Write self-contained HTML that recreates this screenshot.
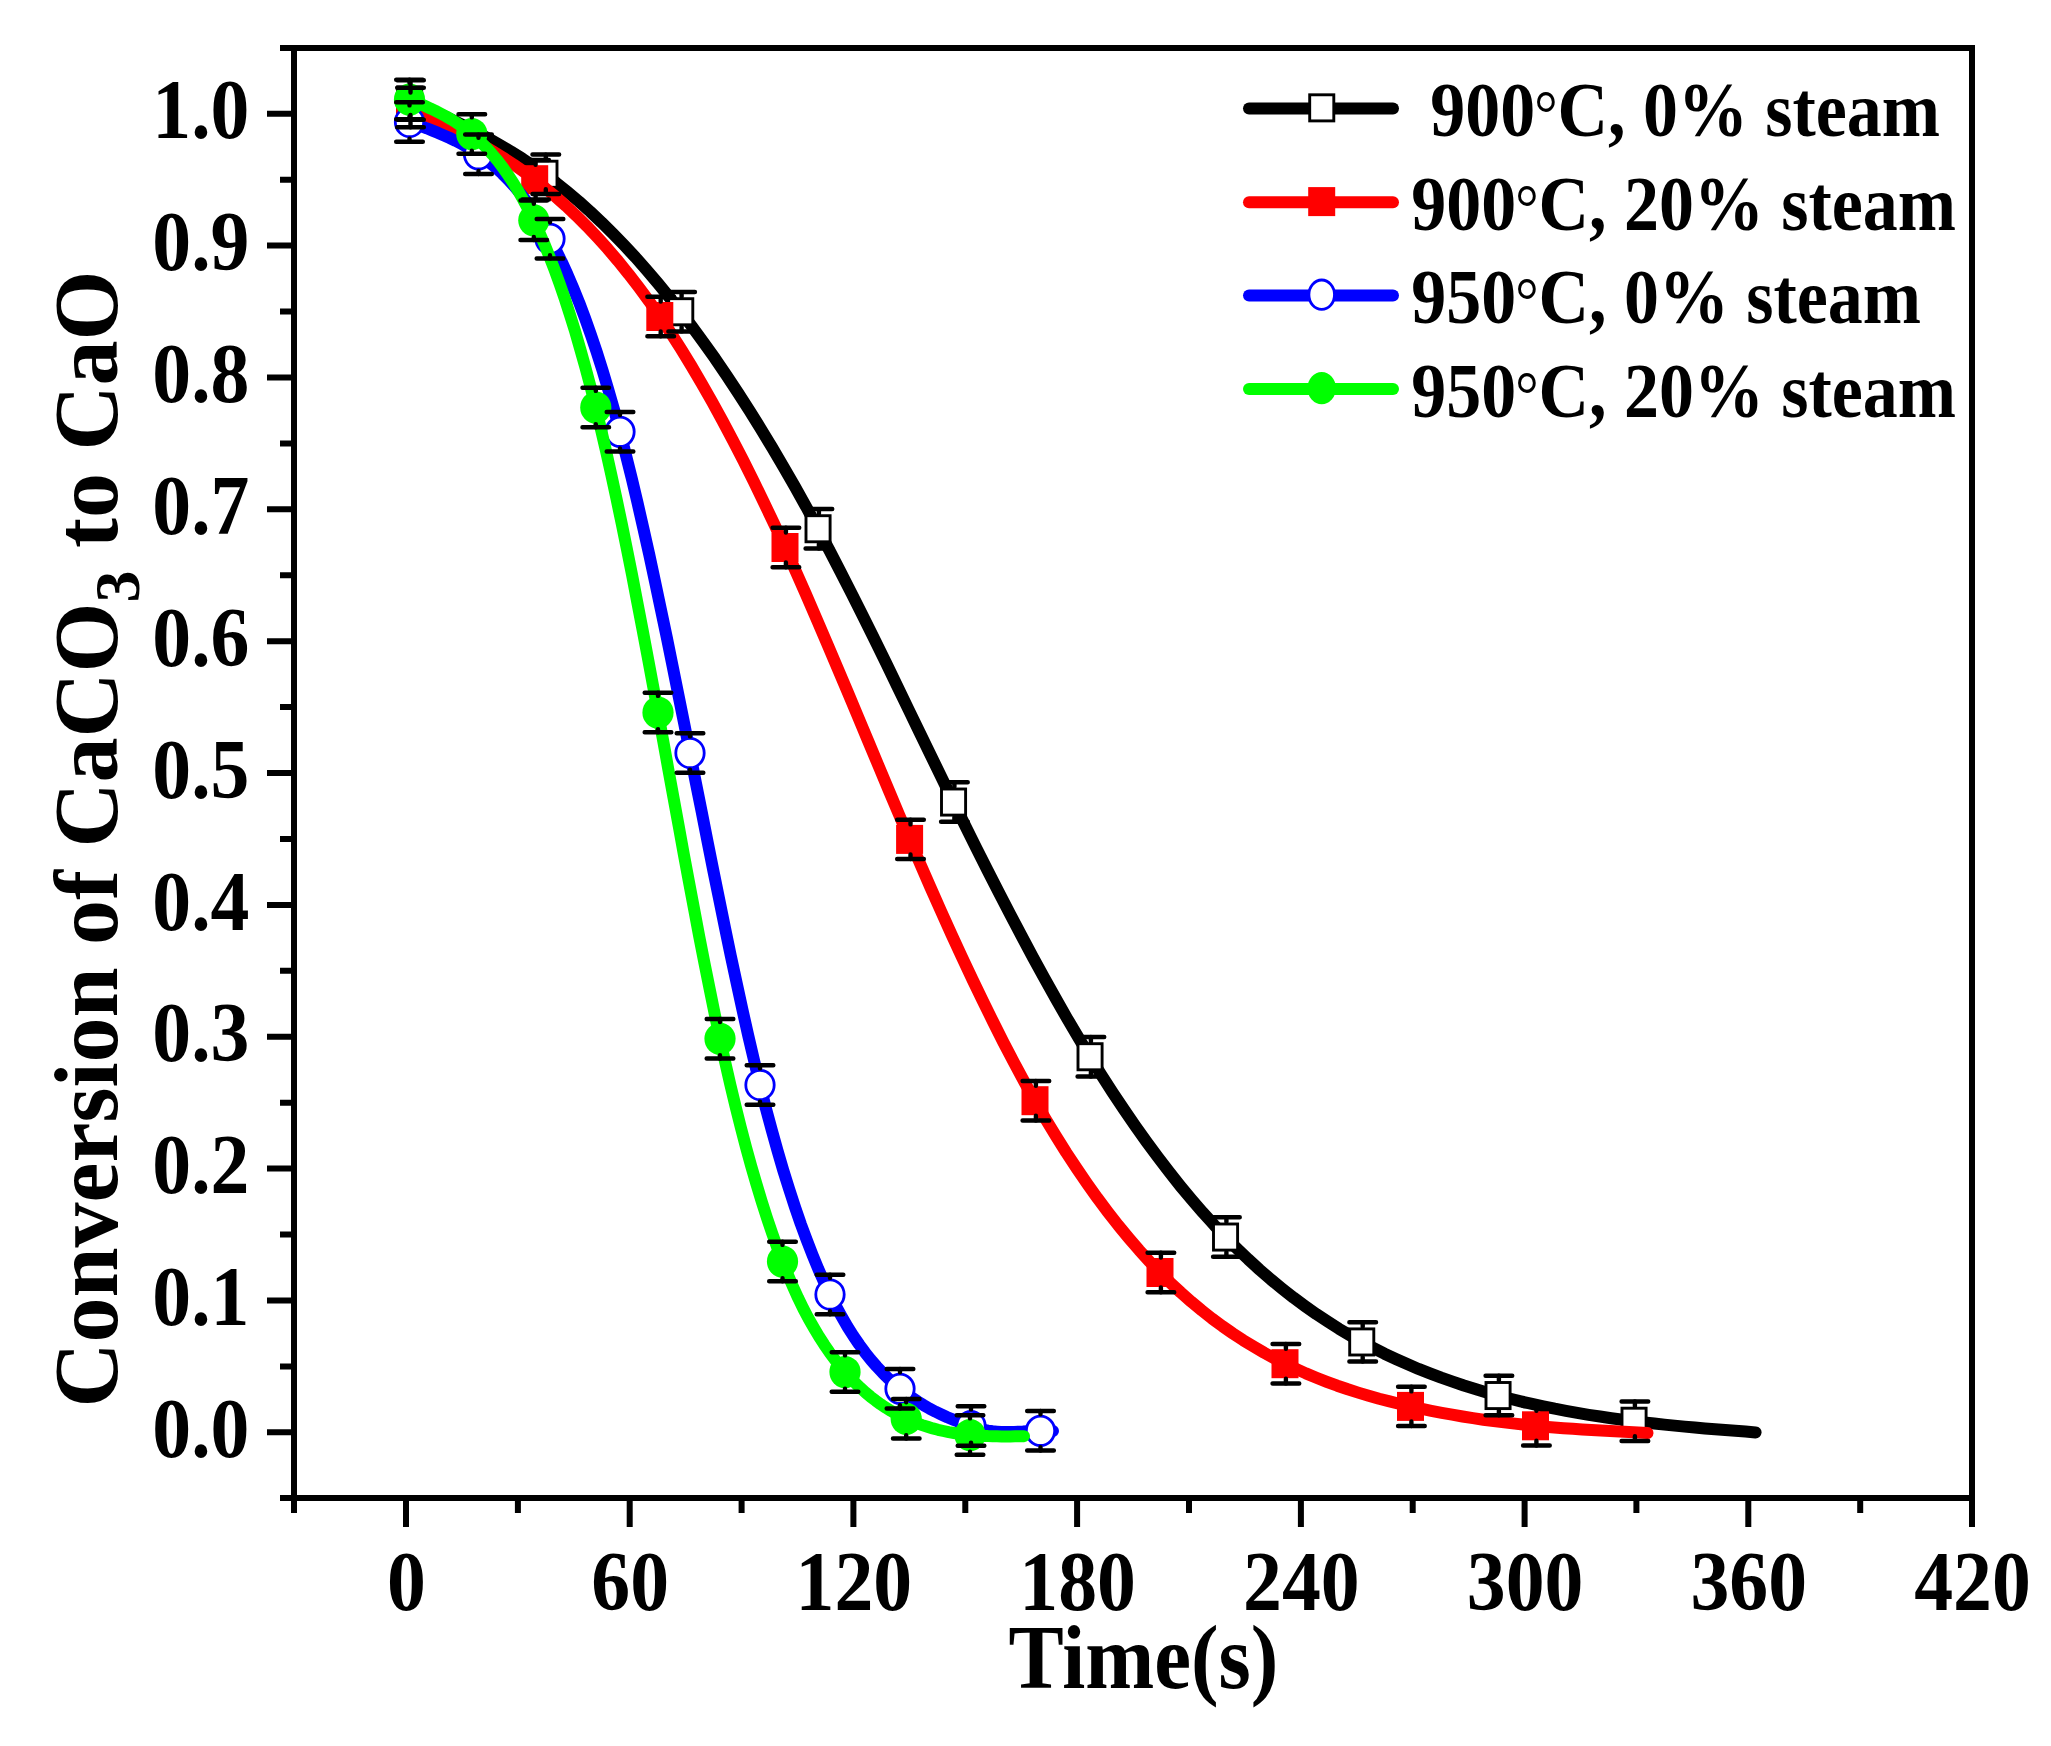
<!DOCTYPE html>
<html lang="en"><head><meta charset="utf-8"><title>Conversion of CaCO3 to CaO</title>
<style>html,body{margin:0;padding:0;background:#fff}body{width:2051px;height:1746px;overflow:hidden}svg{display:block}text{font-family:"Liberation Serif",serif;font-weight:bold;fill:#000}</style>
</head><body>
<svg width="2051" height="1746" viewBox="0 0 2051 1746">
<rect width="2051" height="1746" fill="#fff"/>
<g id="series">
<path d="M409.6 100.0 L420.9 105.2 L432.2 110.4 L443.4 115.6 L454.7 121.1 L466.0 126.7 L477.2 132.5 L488.5 138.5 L499.8 144.9 L511.1 151.6 L522.4 158.7 L533.6 166.2 L544.9 174.2 L556.2 182.8 L567.5 191.9 L578.9 201.5 L590.2 211.6 L601.5 222.3 L612.8 233.5 L624.1 245.2 L635.5 257.4 L646.8 270.2 L658.1 283.5 L669.4 297.4 L680.8 311.8 L692.2 326.8 L703.6 342.5 L715.1 358.6 L726.5 375.4 L737.9 392.6 L749.4 410.4 L760.8 428.8 L772.2 447.7 L783.7 467.2 L795.1 487.1 L806.6 507.7 L818.0 528.8 L829.3 550.1 L840.6 571.9 L851.9 594.1 L863.2 616.6 L874.5 639.4 L885.8 662.4 L897.0 685.7 L908.3 709.0 L919.6 732.3 L930.9 755.6 L942.2 778.9 L953.5 802.0 L964.9 825.1 L976.2 847.9 L987.6 870.5 L999.0 892.8 L1010.4 914.8 L1021.8 936.4 L1033.1 957.6 L1044.5 978.4 L1055.9 998.7 L1067.2 1018.6 L1078.6 1037.9 L1090.0 1056.8 L1101.3 1074.9 L1112.6 1092.4 L1123.9 1109.4 L1135.2 1125.8 L1146.5 1141.7 L1157.8 1157.0 L1169.0 1171.7 L1180.3 1185.9 L1191.6 1199.5 L1202.9 1212.6 L1214.2 1225.1 L1225.5 1237.0 L1236.9 1248.4 L1248.2 1259.3 L1259.6 1269.7 L1270.9 1279.5 L1282.3 1288.8 L1293.6 1297.7 L1305.0 1306.1 L1316.3 1314.1 L1327.7 1321.6 L1339.0 1328.8 L1350.4 1335.5 L1361.8 1341.9 L1373.1 1347.9 L1384.5 1353.7 L1395.8 1359.0 L1407.2 1364.1 L1418.5 1368.9 L1429.9 1373.4 L1441.2 1377.7 L1452.6 1381.7 L1463.9 1385.5 L1475.3 1389.0 L1486.6 1392.4 L1498.0 1395.5 L1509.3 1398.5 L1520.7 1401.3 L1532.0 1403.9 L1543.3 1406.3 L1554.7 1408.7 L1566.0 1410.8 L1577.3 1412.9 L1588.7 1414.8 L1600.0 1416.5 L1611.3 1418.2 L1622.7 1419.8 L1634.0 1421.2 L1644.1 1422.4 L1654.3 1423.5 L1664.4 1424.6 L1674.5 1425.6 L1684.7 1426.6 L1694.8 1427.5 L1704.9 1428.4 L1715.1 1429.2 L1725.2 1430.0 L1735.3 1430.8 L1745.5 1431.6 L1755.6 1432.4" fill="none" stroke="#000" stroke-width="12.0" stroke-linecap="round" stroke-linejoin="round"/>
<rect x="397.6" y="87.0" width="24.1" height="26.1" fill="#fff" stroke="#000" stroke-width="2.9"/><rect x="532.9" y="161.2" width="24.1" height="26.1" fill="#fff" stroke="#000" stroke-width="2.9"/><rect x="668.7" y="298.7" width="24.1" height="26.1" fill="#fff" stroke="#000" stroke-width="2.9"/><rect x="806.0" y="515.7" width="24.1" height="26.1" fill="#fff" stroke="#000" stroke-width="2.9"/><rect x="941.5" y="789.0" width="24.1" height="26.1" fill="#fff" stroke="#000" stroke-width="2.9"/><rect x="1078.0" y="1043.7" width="24.1" height="26.1" fill="#fff" stroke="#000" stroke-width="2.9"/><rect x="1213.5" y="1224.0" width="24.1" height="26.1" fill="#fff" stroke="#000" stroke-width="2.9"/><rect x="1349.7" y="1328.9" width="24.1" height="26.1" fill="#fff" stroke="#000" stroke-width="2.9"/><rect x="1486.0" y="1382.5" width="24.1" height="26.1" fill="#fff" stroke="#000" stroke-width="2.9"/><rect x="1622.0" y="1408.2" width="24.1" height="26.1" fill="#fff" stroke="#000" stroke-width="2.9"/>
<path d="M409.6 107.5 L420.0 112.5 L430.5 117.6 L440.9 122.8 L451.3 128.1 L461.7 133.5 L472.2 139.2 L482.6 145.1 L493.0 151.3 L503.4 157.8 L513.9 164.7 L524.3 172.0 L534.7 179.8 L545.1 188.0 L555.6 196.7 L566.0 206.0 L576.4 215.8 L586.8 226.2 L597.2 237.2 L607.7 248.8 L618.1 261.0 L628.5 273.9 L638.9 287.4 L649.4 301.6 L659.8 316.5 L670.2 332.1 L680.7 348.5 L691.1 365.5 L701.5 383.2 L712.0 401.6 L722.4 420.6 L732.8 440.3 L743.3 460.5 L753.7 481.4 L764.1 502.9 L774.6 524.9 L785.0 547.5 L795.4 570.5 L805.8 594.0 L816.1 617.9 L826.5 642.1 L836.9 666.6 L847.3 691.2 L857.7 716.0 L868.1 740.9 L878.5 765.7 L888.8 790.4 L899.2 815.0 L909.6 839.4 L920.1 863.6 L930.5 887.5 L941.0 911.1 L951.4 934.2 L961.9 956.9 L972.3 979.1 L982.8 1000.9 L993.2 1022.0 L1003.6 1042.7 L1014.1 1062.7 L1024.5 1082.1 L1035.0 1100.8 L1045.4 1118.7 L1055.8 1135.9 L1066.2 1152.5 L1076.7 1168.4 L1087.1 1183.6 L1097.5 1198.2 L1107.9 1212.1 L1118.3 1225.4 L1128.8 1238.1 L1139.2 1250.2 L1149.6 1261.6 L1160.0 1272.5 L1170.4 1282.8 L1180.8 1292.5 L1191.2 1301.7 L1201.7 1310.4 L1212.1 1318.6 L1222.5 1326.3 L1232.9 1333.5 L1243.3 1340.3 L1253.8 1346.7 L1264.2 1352.8 L1274.6 1358.4 L1285.0 1363.7 L1295.5 1368.7 L1305.9 1373.4 L1316.4 1377.7 L1326.8 1381.8 L1337.3 1385.7 L1347.8 1389.3 L1358.2 1392.6 L1368.7 1395.7 L1379.1 1398.7 L1389.6 1401.4 L1400.0 1404.0 L1410.5 1406.4 L1420.9 1408.7 L1431.3 1410.8 L1441.8 1412.8 L1452.2 1414.7 L1462.6 1416.5 L1473.0 1418.1 L1483.4 1419.7 L1493.8 1421.1 L1504.2 1422.4 L1514.7 1423.6 L1525.1 1424.8 L1535.5 1425.8 L1544.8 1426.7 L1554.2 1427.4 L1563.5 1428.2 L1572.8 1428.8 L1582.2 1429.5 L1591.5 1430.0 L1600.8 1430.6 L1610.2 1431.1 L1619.5 1431.6 L1628.8 1432.1 L1638.2 1432.5 L1647.5 1433.0" fill="none" stroke="#f00" stroke-width="12.0" stroke-linecap="round" stroke-linejoin="round"/>
<rect x="396.1" y="93.0" width="27.0" height="29.0" fill="#f00"/><rect x="521.2" y="165.2" width="27.0" height="29.0" fill="#f00"/><rect x="646.3" y="302.0" width="27.0" height="29.0" fill="#f00"/><rect x="771.5" y="533.0" width="27.0" height="29.0" fill="#f00"/><rect x="896.1" y="824.9" width="27.0" height="29.0" fill="#f00"/><rect x="1021.5" y="1086.2" width="27.0" height="29.0" fill="#f00"/><rect x="1146.5" y="1258.0" width="27.0" height="29.0" fill="#f00"/><rect x="1271.5" y="1349.2" width="27.0" height="29.0" fill="#f00"/><rect x="1397.0" y="1391.9" width="27.0" height="29.0" fill="#f00"/><rect x="1522.0" y="1411.3" width="27.0" height="29.0" fill="#f00"/>
<path d="M409.5 122.0 L415.2 124.1 L421.0 126.2 L426.8 128.3 L432.5 130.6 L438.2 132.9 L444.0 135.4 L449.8 138.0 L455.5 140.8 L461.2 143.8 L467.0 147.0 L472.8 150.5 L478.5 154.3 L484.5 158.5 L490.4 163.2 L496.4 168.2 L502.3 173.7 L508.3 179.7 L514.2 186.2 L520.2 193.3 L526.2 201.0 L532.1 209.3 L538.1 218.4 L544.0 228.2 L550.0 238.8 L555.8 249.9 L561.7 261.8 L567.5 274.6 L573.3 288.2 L579.2 302.7 L585.0 318.2 L590.8 334.6 L596.7 352.0 L602.5 370.3 L608.3 389.7 L614.2 410.2 L620.0 431.8 L625.8 454.4 L631.7 478.1 L637.5 502.7 L643.3 528.2 L649.2 554.4 L655.0 581.4 L660.8 609.0 L666.7 637.0 L672.5 665.6 L678.3 694.5 L684.2 723.6 L690.0 753.0 L695.8 782.5 L701.7 811.9 L707.5 841.3 L713.3 870.5 L719.2 899.4 L725.0 927.9 L730.8 955.9 L736.7 983.3 L742.5 1010.0 L748.3 1035.9 L754.2 1061.0 L760.0 1085.0 L765.8 1108.0 L771.7 1129.9 L777.5 1150.7 L783.3 1170.5 L789.2 1189.3 L795.0 1207.1 L800.8 1224.0 L806.7 1239.9 L812.5 1254.9 L818.3 1269.0 L824.2 1282.2 L830.0 1294.5 L835.8 1306.0 L841.7 1316.7 L847.5 1326.7 L853.3 1335.9 L859.2 1344.5 L865.0 1352.4 L870.8 1359.7 L876.7 1366.5 L882.5 1372.7 L888.3 1378.5 L894.2 1383.8 L900.0 1388.8 L905.9 1393.4 L911.8 1397.6 L917.8 1401.6 L923.7 1405.2 L929.6 1408.6 L935.5 1411.7 L941.4 1414.5 L947.3 1417.2 L953.2 1419.6 L959.2 1421.9 L965.1 1424.0 L971.0 1426.0 L972.4 1426.5 L973.8 1426.9 L975.2 1427.4 L976.7 1427.8 L978.1 1428.2 L979.5 1428.6 L980.9 1429.0 L982.3 1429.4 L983.8 1429.7 L985.2 1430.0 L986.6 1430.3 L988.0 1430.6 L992.4 1431.3 L996.8 1431.7 L1001.1 1432.0 L1005.5 1432.1 L1009.9 1432.1 L1014.2 1431.9 L1018.6 1431.7 L1023.0 1431.5 L1027.4 1431.2 L1031.8 1431.0 L1036.1 1430.8 L1040.5 1430.8 L1041.5 1430.7 L1042.6 1430.8 L1043.6 1430.8 L1044.7 1430.8 L1045.7 1430.8 L1046.8 1430.8 L1047.8 1430.8 L1048.8 1430.9 L1049.9 1430.9 L1050.9 1430.9 L1052.0 1431.0 L1053.0 1431.0" fill="none" stroke="#00f" stroke-width="12.0" stroke-linecap="round" stroke-linejoin="round"/>
<ellipse cx="409.5" cy="122.0" rx="14.2" ry="14.7" fill="#fff" stroke="#00f" stroke-width="2.8"/><ellipse cx="478.5" cy="154.3" rx="14.2" ry="14.7" fill="#fff" stroke="#00f" stroke-width="2.8"/><ellipse cx="550.0" cy="238.8" rx="14.2" ry="14.7" fill="#fff" stroke="#00f" stroke-width="2.8"/><ellipse cx="620.0" cy="431.8" rx="14.2" ry="14.7" fill="#fff" stroke="#00f" stroke-width="2.8"/><ellipse cx="690.0" cy="753.0" rx="14.2" ry="14.7" fill="#fff" stroke="#00f" stroke-width="2.8"/><ellipse cx="760.0" cy="1085.0" rx="14.2" ry="14.7" fill="#fff" stroke="#00f" stroke-width="2.8"/><ellipse cx="830.0" cy="1294.5" rx="14.2" ry="14.7" fill="#fff" stroke="#00f" stroke-width="2.8"/><ellipse cx="900.0" cy="1388.8" rx="14.2" ry="14.7" fill="#fff" stroke="#00f" stroke-width="2.8"/><ellipse cx="971.0" cy="1426.0" rx="14.2" ry="14.7" fill="#fff" stroke="#00f" stroke-width="2.8"/><ellipse cx="1040.5" cy="1430.8" rx="14.2" ry="14.7" fill="#fff" stroke="#00f" stroke-width="2.8"/>
<path d="M409.5 99.5 L414.7 101.6 L419.9 103.8 L425.1 106.1 L430.3 108.4 L435.5 110.9 L440.6 113.5 L445.8 116.2 L451.0 119.2 L456.2 122.5 L461.4 126.0 L466.6 129.8 L471.8 134.0 L477.0 138.5 L482.1 143.4 L487.3 148.7 L492.4 154.5 L497.6 160.7 L502.8 167.5 L507.9 174.8 L513.1 182.6 L518.3 191.1 L523.4 200.1 L528.6 209.9 L533.8 220.3 L538.9 231.4 L544.1 243.3 L549.2 256.0 L554.4 269.4 L559.6 283.6 L564.8 298.7 L569.9 314.6 L575.1 331.3 L580.2 349.0 L585.4 367.5 L590.6 387.0 L595.8 407.5 L600.9 429.0 L606.1 451.4 L611.3 474.7 L616.5 498.8 L621.7 523.6 L626.9 549.1 L632.1 575.2 L637.2 601.8 L642.4 628.9 L647.6 656.5 L652.8 684.3 L658.0 712.5 L663.2 740.8 L668.3 769.2 L673.5 797.6 L678.7 826.0 L683.8 854.2 L689.0 882.1 L694.2 909.7 L699.3 936.8 L704.5 963.4 L709.7 989.3 L714.8 1014.4 L720.0 1038.8 L725.2 1062.3 L730.4 1085.0 L735.6 1106.7 L740.8 1127.4 L746.0 1147.3 L751.2 1166.2 L756.5 1184.3 L761.7 1201.4 L766.9 1217.7 L772.1 1233.2 L777.3 1247.8 L782.5 1261.5 L787.7 1274.4 L792.9 1286.5 L798.1 1297.9 L803.3 1308.6 L808.5 1318.5 L813.8 1327.8 L819.0 1336.5 L824.2 1344.6 L829.4 1352.2 L834.6 1359.3 L839.8 1365.8 L845.0 1372.0 L850.1 1377.6 L855.2 1382.9 L860.3 1387.8 L865.4 1392.4 L870.5 1396.7 L875.6 1400.6 L880.7 1404.3 L885.8 1407.7 L890.9 1410.8 L896.0 1413.7 L901.1 1416.3 L906.2 1418.8 L911.6 1421.1 L916.9 1423.2 L922.2 1425.1 L927.5 1426.8 L932.8 1428.4 L938.1 1429.8 L943.4 1431.0 L948.8 1432.1 L954.1 1433.0 L959.4 1433.8 L964.7 1434.5 L970.0 1435.0 L974.5 1435.4 L979.0 1435.7 L983.5 1435.9 L988.0 1436.1 L992.5 1436.2 L997.0 1436.3 L1001.5 1436.4 L1006.0 1436.4 L1010.5 1436.4 L1015.0 1436.3 L1019.5 1436.3 L1024.0 1436.2" fill="none" stroke="#0f0" stroke-width="12.0" stroke-linecap="round" stroke-linejoin="round"/>
<ellipse cx="409.5" cy="99.5" rx="15.6" ry="16.1" fill="#0f0"/><ellipse cx="471.8" cy="134.0" rx="15.6" ry="16.1" fill="#0f0"/><ellipse cx="533.8" cy="220.3" rx="15.6" ry="16.1" fill="#0f0"/><ellipse cx="595.8" cy="407.5" rx="15.6" ry="16.1" fill="#0f0"/><ellipse cx="658.0" cy="712.5" rx="15.6" ry="16.1" fill="#0f0"/><ellipse cx="720.0" cy="1038.8" rx="15.6" ry="16.1" fill="#0f0"/><ellipse cx="782.5" cy="1261.5" rx="15.6" ry="16.1" fill="#0f0"/><ellipse cx="845.0" cy="1372.0" rx="15.6" ry="16.1" fill="#0f0"/><ellipse cx="906.2" cy="1418.8" rx="15.6" ry="16.1" fill="#0f0"/><ellipse cx="970.0" cy="1435.0" rx="15.6" ry="16.1" fill="#0f0"/>
</g>
<g id="errors" stroke="#000" fill="none" stroke-linecap="round">
<path d="M397.2 80.3H423.8M397.2 119.7H423.8M532.5 154.6H559.1M532.5 193.9H559.1M668.4 292.1H694.9M668.4 331.4H694.9M805.6 509.1H832.2M805.6 548.5H832.2M941.1 782.3H967.7M941.1 821.7H967.7M1077.6 1037.0H1104.2M1077.6 1076.5H1104.2M1213.1 1217.3H1239.7M1213.1 1256.7H1239.7M1349.4 1322.2H1376.0M1349.4 1361.6H1376.0M1485.6 1375.8H1512.2M1485.6 1415.2H1512.2M1621.6 1401.5H1648.2M1621.6 1440.9H1648.2M397.2 87.8H423.8M397.2 127.2H423.8M522.3 160.1H548.9M522.3 199.4H548.9M647.4 296.8H674.0M647.4 336.2H674.0M772.6 527.8H799.2M772.6 567.2H799.2M897.2 819.7H923.8M897.2 859.1H923.8M1022.6 1081.0H1049.2M1022.6 1120.5H1049.2M1147.6 1252.8H1174.2M1147.6 1292.2H1174.2M1272.6 1344.0H1299.2M1272.6 1383.4H1299.2M1398.1 1386.7H1424.7M1398.1 1426.1H1424.7M1523.1 1406.1H1549.7M1523.1 1445.5H1549.7M396.2 102.3H422.8M396.2 141.7H422.8M465.2 134.6H491.8M465.2 174.0H491.8M536.7 219.1H563.3M536.7 258.4H563.3M606.7 412.1H633.3M606.7 451.4H633.3M676.7 733.3H703.3M676.7 772.7H703.3M746.7 1065.3H773.3M746.7 1104.7H773.3M816.7 1274.8H843.3M816.7 1314.2H843.3M886.7 1369.0H913.3M886.7 1408.5H913.3M957.7 1406.3H984.3M957.7 1445.7H984.3M1027.2 1411.0H1053.8M1027.2 1450.5H1053.8M396.2 79.8H422.8M396.2 119.2H422.8M458.5 114.3H485.1M458.5 153.7H485.1M520.5 200.6H547.0M520.5 240.0H547.0M582.5 387.8H609.0M582.5 427.2H609.0M644.7 692.8H671.3M644.7 732.2H671.3M706.7 1019.0H733.3M706.7 1058.5H733.3M769.2 1241.8H795.8M769.2 1281.2H795.8M831.7 1352.3H858.3M831.7 1391.7H858.3M893.0 1399.0H919.5M893.0 1438.5H919.5M956.7 1415.3H983.3M956.7 1454.7H983.3" stroke-width="4.5"/>
<path d="M410.5 80.3V85.0M410.5 119.7V115.0M545.8 154.6V159.2M545.8 193.9V189.2M681.6 292.1V296.8M681.6 331.4V326.8M818.9 509.1V513.8M818.9 548.5V543.8M954.4 782.3V787.0M954.4 821.7V817.0M1090.9 1037.0V1041.8M1090.9 1076.5V1071.8M1226.4 1217.3V1222.0M1226.4 1256.7V1252.0M1362.7 1322.2V1326.9M1362.7 1361.6V1356.9M1498.9 1375.8V1380.5M1498.9 1415.2V1410.5M1634.9 1401.5V1406.2M1634.9 1440.9V1436.2M410.5 87.8V92.5M410.5 127.2V122.5M535.6 160.1V164.8M535.6 199.4V194.8M660.7 296.8V301.5M660.7 336.2V331.5M785.9 527.8V532.5M785.9 567.2V562.5M910.5 819.7V824.4M910.5 859.1V854.4M1035.9 1081.0V1085.8M1035.9 1120.5V1115.8M1160.9 1252.8V1257.5M1160.9 1292.2V1287.5M1285.9 1344.0V1348.7M1285.9 1383.4V1378.7M1411.4 1386.7V1391.4M1411.4 1426.1V1421.4M1536.4 1406.1V1410.8M1536.4 1445.5V1440.8M409.5 102.3V105.4M409.5 141.7V138.6M478.5 134.6V137.7M478.5 174.0V170.9M550.0 219.1V222.2M550.0 258.4V255.3M620.0 412.1V415.1M620.0 451.4V448.4M690.0 733.3V736.4M690.0 772.7V769.6M760.0 1065.3V1068.4M760.0 1104.7V1101.6M830.0 1274.8V1277.9M830.0 1314.2V1311.1M900.0 1369.0V1372.2M900.0 1408.5V1405.3M971.0 1406.3V1409.4M971.0 1445.7V1442.6M1040.5 1411.0V1414.2M1040.5 1450.5V1447.3M409.5 79.8V82.9M409.5 119.2V116.1M471.8 114.3V117.4M471.8 153.7V150.6M533.8 200.6V203.7M533.8 240.0V236.9M595.8 387.8V390.9M595.8 427.2V424.1M658.0 692.8V695.9M658.0 732.2V729.1M720.0 1019.0V1022.1M720.0 1058.5V1055.3M782.5 1241.8V1244.9M782.5 1281.2V1278.1M845.0 1352.3V1355.4M845.0 1391.7V1388.6M906.2 1399.0V1402.2M906.2 1438.5V1435.3M970.0 1415.3V1418.4M970.0 1454.7V1451.6" stroke-width="4.4"/>
</g>
<g id="axes" stroke="#000" stroke-width="6.0" fill="none" stroke-linecap="butt">
<path d="M291.0 48.0H1975.0 M291.0 1498.0H1975.0 M294.0 48.0V1498.0 M1972.0 48.0V1498.0"/>
<path d="M294.0 1498.0H280.0M294.0 1432.3H267.0M294.0 1366.4H280.0M294.0 1300.5H267.0M294.0 1234.5H280.0M294.0 1168.6H267.0M294.0 1102.7H280.0M294.0 1036.8H267.0M294.0 970.8H280.0M294.0 904.9H267.0M294.0 839.0H280.0M294.0 773.0H267.0M294.0 707.1H280.0M294.0 641.2H267.0M294.0 575.3H280.0M294.0 509.3H267.0M294.0 443.4H280.0M294.0 377.5H267.0M294.0 311.6H280.0M294.0 245.6H267.0M294.0 179.7H280.0M294.0 113.8H267.0M294.0 48.0H280.0M294.0 1498.0V1513.0M406.0 1498.0V1527.0M517.9 1498.0V1513.0M629.7 1498.0V1527.0M741.6 1498.0V1513.0M853.4 1498.0V1527.0M965.3 1498.0V1513.0M1077.1 1498.0V1527.0M1189.0 1498.0V1513.0M1300.9 1498.0V1527.0M1412.7 1498.0V1513.0M1524.6 1498.0V1527.0M1636.4 1498.0V1513.0M1748.3 1498.0V1527.0M1860.2 1498.0V1513.0M1972.0 1498.0V1527.0"/>
</g>
<g id="yticks" font-size="84.7" text-anchor="end">
<text transform="translate(249.5 1456.9) scale(0.918 1)">0.0</text>
<text transform="translate(249.5 1325.0) scale(0.918 1)">0.1</text>
<text transform="translate(249.5 1193.2) scale(0.918 1)">0.2</text>
<text transform="translate(249.5 1061.3) scale(0.918 1)">0.3</text>
<text transform="translate(249.5 929.5) scale(0.918 1)">0.4</text>
<text transform="translate(249.5 797.6) scale(0.918 1)">0.5</text>
<text transform="translate(249.5 665.8) scale(0.918 1)">0.6</text>
<text transform="translate(249.5 534.0) scale(0.918 1)">0.7</text>
<text transform="translate(249.5 402.1) scale(0.918 1)">0.8</text>
<text transform="translate(249.5 270.2) scale(0.918 1)">0.9</text>
<text transform="translate(249.5 138.4) scale(0.918 1)">1.0</text>
</g>
<g id="xticks" font-size="84.7" text-anchor="middle">
<text transform="translate(406.5 1610.0) scale(0.918 1)">0</text>
<text transform="translate(630.2 1610.0) scale(0.918 1)">60</text>
<text transform="translate(853.9 1610.0) scale(0.918 1)">120</text>
<text transform="translate(1077.6 1610.0) scale(0.918 1)">180</text>
<text transform="translate(1301.4 1610.0) scale(0.918 1)">240</text>
<text transform="translate(1525.1 1610.0) scale(0.918 1)">300</text>
<text transform="translate(1748.8 1610.0) scale(0.918 1)">360</text>
<text transform="translate(1972.5 1610.0) scale(0.918 1)">420</text>
</g>
<text id="xtitle" font-size="90.5" text-anchor="middle" transform="translate(1143.4 1688) scale(0.915 1)">Time(s)</text>
<text id="ytitle" font-size="90" text-anchor="middle" transform="translate(117 839) rotate(-90)">Conversion of CaCO<tspan font-size="64" dy="22">3</tspan><tspan dy="-22"> to CaO</tspan></text>
<g id="legend">
<path d="M1249 108.5H1393" stroke="#000" stroke-width="12" stroke-linecap="round" fill="none"/>
<rect x="1309.7" y="94.8" width="24.1" height="26.1" fill="#fff" stroke="#000" stroke-width="2.9"/>
<text font-size="79.0" transform="translate(1430.3 136.2) scale(0.885 1)">900<tspan font-weight="normal" font-size="66" dx="-1">°</tspan><tspan>C, 0% steam</tspan></text>
<path d="M1249 202.2H1393" stroke="#f00" stroke-width="12" stroke-linecap="round" fill="none"/>
<rect x="1308.2" y="187.1" width="27.0" height="29.0" fill="#f00"/>
<text font-size="79.0" transform="translate(1411.3 229.8) scale(0.885 1)">900<tspan font-weight="normal" font-size="66" dx="-1">°</tspan><tspan>C, 20% steam</tspan></text>
<path d="M1249 295.4H1393" stroke="#00f" stroke-width="12" stroke-linecap="round" fill="none"/>
<ellipse cx="1321.7" cy="294.7" rx="12.8" ry="14.7" fill="#fff" stroke="#00f" stroke-width="2.8"/>
<text font-size="79.0" transform="translate(1411.3 323.2) scale(0.885 1)">950<tspan font-weight="normal" font-size="66" dx="-1">°</tspan><tspan>C, 0% steam</tspan></text>
<path d="M1249 388.9H1393" stroke="#0f0" stroke-width="12" stroke-linecap="round" fill="none"/>
<ellipse cx="1321.7" cy="388.2" rx="14.2" ry="16.1" fill="#0f0"/>
<text font-size="79.0" transform="translate(1411.3 416.8) scale(0.885 1)">950<tspan font-weight="normal" font-size="66" dx="-1">°</tspan><tspan>C, 20% steam</tspan></text>
</g>
</svg></body></html>
